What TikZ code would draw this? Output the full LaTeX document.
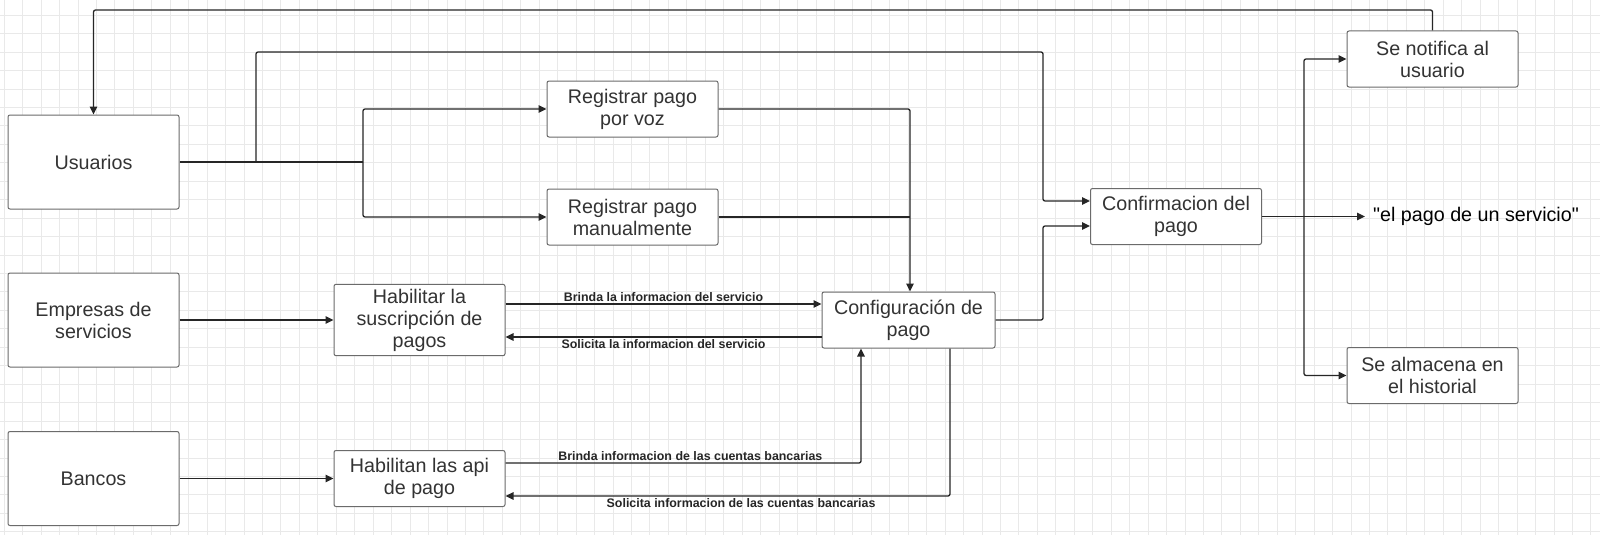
\documentclass[tikz,border=0pt]{standalone}
\usepackage{fontspec}
\setmainfont{Liberation Sans}
\usetikzlibrary{arrows.meta,calc}
\definecolor{boxgray}{HTML}{6B6B6B}
\definecolor{textgray}{HTML}{333333}
\definecolor{linecol}{HTML}{262626}
\definecolor{gridcol}{HTML}{E9E9E9}
\tikzstyle{line} = [draw=linecol, line width=1.3pt, rounded corners=2pt, -{Triangle[length=8pt,width=7.5pt]}]
\tikzstyle{plain} = [draw=linecol, line width=1.3pt, rounded corners=2pt]
\tikzstyle{block} = [draw=boxgray, line width=1pt, rectangle, rounded corners=2pt, fill=white, align=center, minimum width=171pt, minimum height=56pt, inner ysep=4.5pt, text=textgray, font=\fontsize{19.7}{22}\selectfont]
\tikzstyle{entity} = [block, minimum height=94pt]
\tikzstyle{flowlabel} = [font=\bfseries\fontsize{12.4}{14}\selectfont, text=linecol, inner sep=1.5pt]
\tikzstyle{gridline} = [draw=gridcol, line width=0.6pt]

\begin{document}
\begin{tikzpicture}[x=1pt, y=-1pt]
        \fill[white] (0,0) rectangle (1600,535);
        \useasboundingbox (0,0) rectangle (1600,535);
        % background grid
        \foreach \gx in {0,...,86} \draw[gridline] ({4+18.45*\gx},0) -- ({4+18.45*\gx},535);
        \foreach \gy in {0,...,28} \draw[gridline] (0,{15+18.45*\gy}) -- (1600,{15+18.45*\gy});

        \node[entity] (usuarios) at (93.5,162) {Usuarios};
        \node[entity] (empresas) at (93.5,320) {Empresas de\\servicios};
        \node[entity] (bancos) at (93.5,478.5) {Bancos};
        \node[block] (voz) at (632.5,109) {Registrar pago\\por voz};
        \node[block] (manual) at (632.5,217) {Registrar pago\\manualmente};
        \node[block] (suscrip) at (419.5,320) {Habilitar la\\suscripción de\\pagos};
        \node[block] (api) at (419.5,478.5) {Habilitan las api\\de pago};
        \node[block, minimum width=173pt] (config) at (908.5,320) {Configuración de\\pago};
        \node[block] (confirm) at (1176,216.5) {Confirmacion del\\pago};
        \node[block] (notifica) at (1432.5,59) {Se notifica al\\usuario};
        \node[block] (almacena) at (1432.5,375.5) {Se almacena en\\el historial};
        \node[anchor=west, inner xsep=8pt, inner ysep=1pt, font=\fontsize{19.7}{22}\selectfont, text=black] (servicio) at (1365,216.5) {\textquotedbl el pago de un servicio\textquotedbl};

        \coordinate (split) at (363,162);
        \coordinate (fork) at (256,162);
        \coordinate (highrail) at (1043,52);
        \coordinate (midrail) at (1043,320);
        \coordinate (outsplit) at (1304,216.5);
        \coordinate (toprail) at (760,10);

        \path[plain] (usuarios.east) -- (split);
        \path[line] (split) |- (voz);
        \path[line] (split) |- (manual);
        \path[line] (fork) |- (highrail) |- ([yshift=15.5pt]confirm.west);
        \path[line] (voz.east) -| ([xshift=1.5pt]config.north);
        \path[plain] (manual.east) -- ($(manual.east -| config.north)+(1.5,0)$);
        \path[line] (config.east) -- (midrail) |- ([yshift=-9.5pt]confirm.west);
        \path[line] (confirm.east) -- (servicio.west);
        \path[line] (outsplit) |- (notifica);
        \path[line] (outsplit) |- (almacena);
        \path[line] (notifica.north) |- (toprail) -| (usuarios.north);
        \path[line] (empresas) -- (suscrip);
        \path[line] (bancos) -- (api);
        \path[line] ([yshift=16pt]suscrip.east) -- node[flowlabel, above] {Brinda la informacion del servicio} ([yshift=16pt]suscrip.east -| config.west);
        \path[line] ([yshift=-17pt]config.west) -- node[flowlabel, below] {Solicita la informacion del servicio} ([yshift=-17pt]config.west -| suscrip.east);
        \path[line] ([yshift=15.5pt]api.east) -| node[flowlabel, above, pos=0.26] {Brinda informacion de las cuentas bancarias} ([xshift=-47.5pt]config.south);
        \path[line] ([xshift=41.5pt]config.south) |- node[flowlabel, below, pos=0.735] {Solicita informacion de las cuentas bancarias} ([yshift=-17.5pt]api.east);
    \end{tikzpicture}
\end{document}
